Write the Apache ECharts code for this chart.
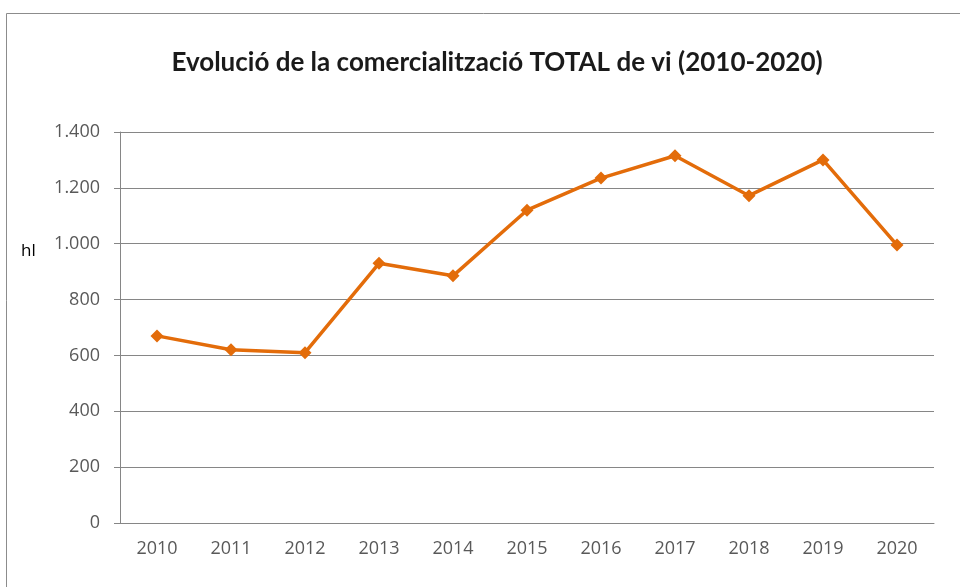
<!DOCTYPE html>
<html>
<head>
<meta charset="utf-8">
<script src="https://cdn.jsdelivr.net/npm/echarts@6/dist/echarts.min.js"></script>
<style>
  html, body { margin: 0; padding: 0; background: #fff; }
  #chart { width: 960px; height: 587px; }
</style>
</head>
<body>
<div id="chart"></div>
<script>
// Data
const years = ['2010', '2011', '2012', '2013', '2014', '2015', '2016', '2017', '2018', '2019', '2020']
const totalHl = [670, 620, 610, 930, 885, 1120, 1235, 1315, 1172, 1300, 995]
const yTicks = [0, 200, 400, 600, 800, 1000, 1200, 1400]

const chart = echarts.init(document.getElementById('chart'))

// thousands with a dot, catalan style
const fmt = (v) => String(v).replace(/\B(?=(\d{3})+(?!\d))/g, '.')

const option = {
  animation: false,
  backgroundColor: '#fff',
  title: {
    text: 'Evolució de la comercialització TOTAL de vi (2010-2020)',
    left: 492,
    top: 45,
    textAlign: 'center',
    textStyle: {
      fontFamily: 'Lato',
      fontSize: 26,
      fontWeight: 'bold',
      color: '#1a1a1a'
    }
  },
  graphic: [
    {
      type: 'rect',
      shape: { x: 6.5, y: 13.5, width: 980, height: 600 },
      style: { fill: 'none', stroke: '#8c8c8c', lineWidth: 1 },
      silent: true
    },
    {
      type: 'text',
      left: 21,
      top: 243,
      style: { text: 'hl', fontFamily: 'Open Sans', fontSize: 17, fill: '#000' }
    }
  ],
  grid: {
    left: 120,
    right: 26,
    top: 132,
    bottom: 64
  },
  xAxis: {
    type: 'category',
    data: years,
    boundaryGap: true,
    axisLine: { lineStyle: { color: '#868686', width: 1 } },
    axisTick: { show: false },
    axisLabel: {
      margin: 17,
      fontFamily: 'Open Sans',
      fontSize: 18,
      color: '#595959'
    }
  },
  yAxis: {
    type: 'value',
    min: yTicks[0],
    max: yTicks[yTicks.length - 1],
    interval: 200,
    axisLine: { show: true, lineStyle: { color: '#868686', width: 1 } },
    axisTick: { show: true, length: 6, lineStyle: { color: '#868686' } },
    splitLine: { lineStyle: { color: '#868686', width: 1 } },
    axisLabel: {
      margin: 20,
      fontFamily: 'Open Sans',
      fontSize: 18,
      color: '#595959',
      formatter: fmt
    }
  },
  series: [
    {
      name: 'TOTAL',
      type: 'line',
      data: totalHl,
      symbol: 'diamond',
      symbolSize: 13,
      lineStyle: { color: '#E36C0A', width: 3.5 },
      itemStyle: { color: '#E36C0A' }
    }
  ]
}

chart.setOption(option)
</script>
</body>
</html>
